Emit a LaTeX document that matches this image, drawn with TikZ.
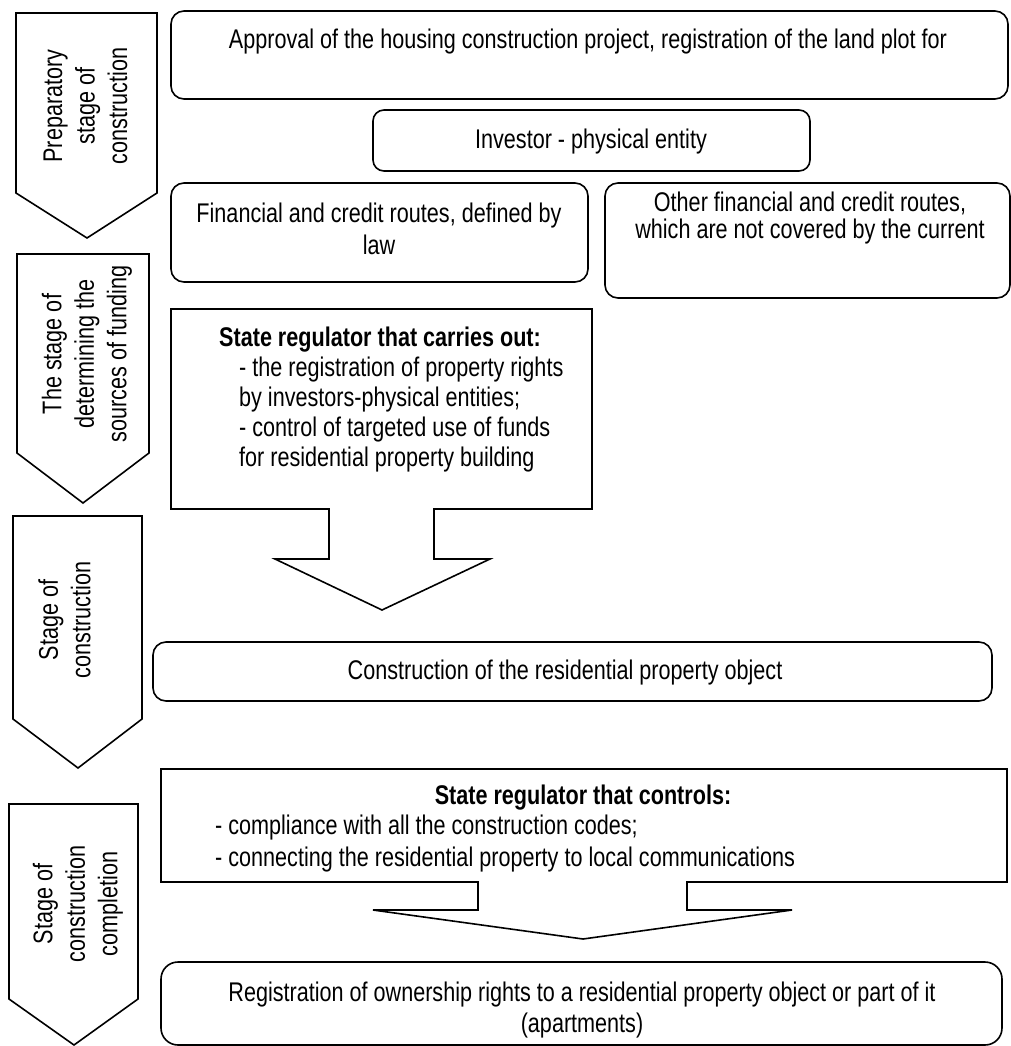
\documentclass[tikz,border=0pt]{standalone}
\usepackage{fontspec}
\setmainfont{Liberation Sans}[FakeStretch=0.8]
\begin{document}
\begin{tikzpicture}[x=1pt,y=-1pt,
  outl/.style={draw=black, line width=1.6pt, line join=miter},
  rbox/.style={outl, rounded corners=13pt, inner sep=0pt, outer sep=0pt},
  lbl/.style={font=\fontsize{27}{32.5}\selectfont, inner sep=0pt},
  stagelbl/.style={lbl, rotate=90, align=center},
  linetxt/.style={lbl, anchor=base},
  linetxtl/.style={lbl, anchor=base west}
]
\useasboundingbox (0,0) rectangle (1011,1046);

% ---- stage arrows (left column)
\draw[outl] (16,13) -- (157,13) -- (157,193) -- (87,238) -- (16,193) -- cycle;
\node[stagelbl] (s1) at (85.5,106) {Preparatory\\stage of\\construction};

\draw[outl] (17,254) -- (149,254) -- (149,453) -- (83,503) -- (17,453) -- cycle;
\node[stagelbl] (s2) at (87,354) {The stage of\\determining the\\sources of funding};

\draw[outl] (13,516) -- (142,516) -- (142,719) -- (78,768) -- (13,719) -- cycle;
\node[stagelbl] (s3) at (64.5,620) {Stage of\\construction};

\draw[outl] (9,804) -- (138,804) -- (138,999) -- (74,1045) -- (9,999) -- cycle;
\node[stagelbl] (s4) at (78,904) {Stage of\\construction\\completion};

% ---- box 1
\node[rbox, minimum width=837pt, minimum height=88pt] (b1) at (589.5,55) {};
\node[linetxt] (t1) at (588,49) {Approval of the housing construction project, registration of the land plot for};

% ---- box 2
\node[rbox, rounded corners=11pt, minimum width=437pt, minimum height=61pt] (b2) at (591.5,140.5) {};
\node[linetxt] (t2) at (591,149) {Investor - physical entity};

% ---- box 3
\node[rbox, minimum width=417pt, minimum height=99pt] (b3) at (379.5,232.5) {};
\node[linetxt] (t3a) at (379,222) {Financial and credit routes, defined by};
\node[linetxt] (t3b) at (379,254) {law};

% ---- box 4
\node[rbox, minimum width=405pt, minimum height=115pt] (b4) at (807.5,240.5) {};
\node[linetxt] (t4a) at (810,211) {Other financial and credit routes,};
\node[linetxt] (t4b) at (810,238) {which are not covered by the current};

% ---- callout 1
\draw[outl] (171,309) -- (592,309) -- (592,509) -- (434,509) -- (434,559) -- (490,559)
  -- (382,610) -- (275,559) -- (329,559) -- (329,509) -- (171,509) -- cycle;
\node[linetxtl] (t5a) at (219,346) {\bfseries State regulator that carries out:};
\node[linetxtl] (t5b) at (239,376) {- the registration of property rights};
\node[linetxtl] (t5c) at (239,406) {by investors-physical entities;};
\node[linetxtl] (t5d) at (239,436) {- control of targeted use of funds};
\node[linetxtl] (t5e) at (239,466) {for residential property building};

% ---- box 6
\node[rbox, minimum width=839pt, minimum height=59pt] (b6) at (572.5,671.5) {};
\node[linetxt] (t6) at (565,679) {Construction of the residential property object};

% ---- callout 2
\draw[outl] (161,769) -- (1007,769) -- (1007,882) -- (687,882) -- (687,910) -- (792,910)
  -- (583,939) -- (373,910) -- (478,910) -- (478,882) -- (161,882) -- cycle;
\node[linetxt] (t7a) at (583,804) {\bfseries State regulator that controls:};
\node[linetxtl] (t7b) at (215,834) {- compliance with all the construction codes;};
\node[linetxtl] (t7c) at (215,866) {- connecting the residential property to local communications};

% ---- box 8
\node[rbox, rounded corners=17pt, minimum width=841pt, minimum height=83pt] (b8) at (581.5,1003.5) {};
\node[linetxt] (t8a) at (582,1001) {Registration of ownership rights to a residential property object or part of it};
\node[linetxt] (t8b) at (582,1032) {(apartments)};
\end{tikzpicture}
\end{document}
